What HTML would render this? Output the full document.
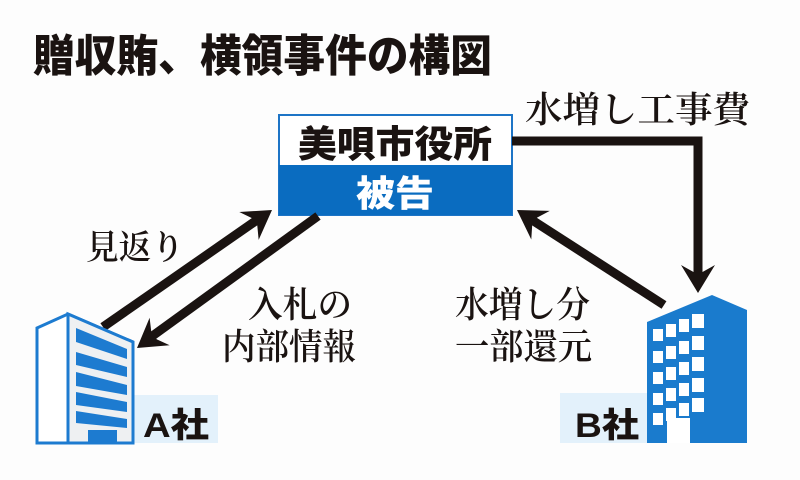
<!DOCTYPE html>
<html><head><meta charset="utf-8"><style>
html,body{margin:0;padding:0;background:#fff;}
svg{display:block;}
.g{font-family:"Liberation Sans","Noto Sans CJK JP",sans-serif;font-weight:900;}
.s{font-family:"Liberation Serif","Noto Serif CJK SC",serif;font-weight:600;fill:#1a1311;}
</style></head><body>
<svg width="800" height="480" viewBox="0 0 800 480" xmlns="http://www.w3.org/2000/svg">
<rect width="800" height="480" fill="#fdfdfd"/>
<text class="g" x="33" y="71" font-size="44" textLength="459" lengthAdjust="spacingAndGlyphs" fill="#1a1311">贈収賄、横領事件の構図</text>

<!-- box -->
<rect x="279" y="115" width="233" height="100" fill="#fff" stroke="#1d74c6" stroke-width="2"/>
<rect x="279" y="165" width="233" height="50" fill="#0a6cc0"/>
<text class="g" x="395" y="157" font-size="37" text-anchor="middle" textLength="194" lengthAdjust="spacingAndGlyphs" fill="#1a1311">美唄市役所</text>
<text class="g" x="395" y="206" font-size="36" text-anchor="middle" textLength="78" lengthAdjust="spacingAndGlyphs" fill="#fff">被告</text>

<!-- labels -->
<text class="s" x="525" y="122" font-size="36" textLength="225" lengthAdjust="spacingAndGlyphs">水増し工事費</text>
<text class="s" x="86" y="259" font-size="34" textLength="98" lengthAdjust="spacingAndGlyphs">見返り</text>
<text class="s" x="248" y="317" font-size="36" textLength="104" lengthAdjust="spacingAndGlyphs">入札の</text>
<text class="s" x="222" y="359" font-size="36" textLength="134" lengthAdjust="spacingAndGlyphs">内部情報</text>
<text class="s" x="455" y="317" font-size="36" textLength="135" lengthAdjust="spacingAndGlyphs">水増し分</text>
<text class="s" x="455" y="359" font-size="36" textLength="137" lengthAdjust="spacingAndGlyphs">一部還元</text>

<!-- connectors -->
<g stroke="#1a1311" stroke-width="9" fill="none">
<line x1="103" y1="327" x2="257" y2="220"/>
<line x1="318" y1="216" x2="151" y2="337"/>
<line x1="664" y1="305" x2="532" y2="220"/>
<polyline points="512,141 698,141 698,275"/>
</g>
<g fill="#1a1311">
<path transform="translate(272,210) rotate(-34.7)" d="M0,0 L-28,-17 L-21,-4.5 L-21,4.5 L-28,17 Z"/>
<path transform="translate(137,348) rotate(143.9)" d="M0,0 L-28,-17 L-21,-4.5 L-21,4.5 L-28,17 Z"/>
<path transform="translate(517,210) rotate(-147.1)" d="M0,0 L-28,-17 L-21,-4.5 L-21,4.5 L-28,17 Z"/>
<path transform="translate(698,293) rotate(90)" d="M0,0 L-28,-17 L-21,-4.5 L-21,4.5 L-28,17 Z"/>
</g>

<!-- A company -->
<rect x="133" y="395" width="85" height="48" fill="#e3f1fb"/>
<text class="g" x="143" y="437" font-size="34" textLength="66" lengthAdjust="spacingAndGlyphs" fill="#1a1311">A社</text>
<polygon points="37,328 68,314 133,342 133,443 37,443" fill="#fff" stroke="#1d7bd0" stroke-width="3"/>
<polygon points="68,314 133,342 133,443 68,443" fill="#eef0f2" stroke="#1d7bd0" stroke-width="3"/>
<g fill="#1d7bd0">
<polygon points="76,328 127,349 127,359 76,342"/>
<polygon points="76,352 127,367 127,377 76,365"/>
<polygon points="76,372 127,385 127,395 76,386"/>
<polygon points="76,392 127,402 127,412 76,405"/>
<polygon points="76,411 127,419 127,428 76,423"/>
<rect x="88" y="430" width="29" height="13"/>
</g>

<!-- B company -->
<rect x="560" y="393" width="87" height="50" fill="#e3f1fb"/>
<text class="g" x="575" y="437" font-size="34" textLength="64" lengthAdjust="spacingAndGlyphs" fill="#1a1311">B社</text>
<polygon points="647,322 712,295 747,310 747,443 647,443" fill="#1a7bcd"/>
<g fill="#fff">
<g id="r1">
<rect x="653" y="329" width="10" height="12"/><rect x="666" y="324" width="10" height="13"/><rect x="679" y="319" width="10" height="13"/><rect x="692" y="314" width="12" height="14"/>
</g>
<use href="#r1" y="22"/><use href="#r1" y="43"/><use href="#r1" y="64"/><use href="#r1" y="84"/>
<rect x="667" y="418" width="23" height="25"/>
</g>
</svg>
</body></html>
